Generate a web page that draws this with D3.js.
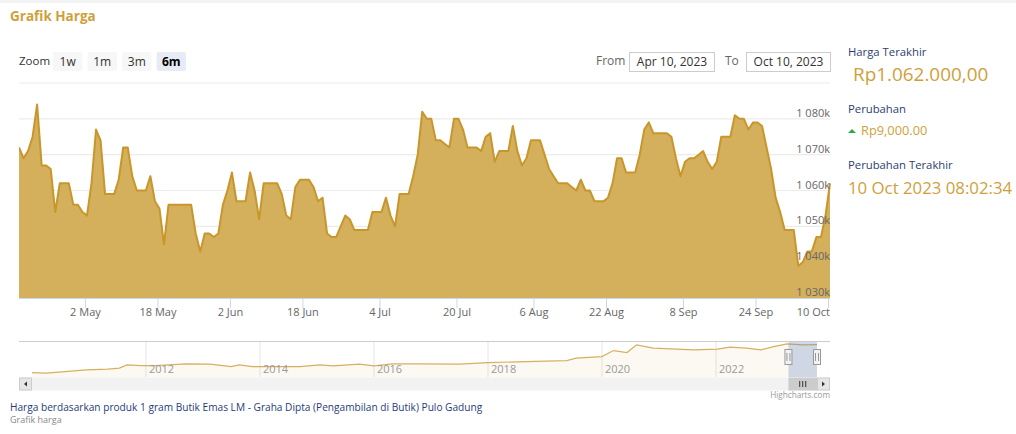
<!DOCTYPE html>
<html><head><meta charset="utf-8">
<script src="https://cdn.jsdelivr.net/npm/d3@7/dist/d3.min.js"></script>
<style>
body{margin:0;background:#fff;}
svg{display:block;font-family:"Open Sans",sans-serif;}
</style></head><body>
<svg id="c" width="1016" height="434"></svg>
<script>
// ---- data ----
const dayIndex = [0,1,2,3,4,5,6,7,8,9,11,12,13,14,15,16,17,18,19,21,22,23,24,25,26,28,29,30,31,32,33,38,39,40,41,42,43,44,45,46,47,48,50,51,52,53,54,57,58,59,60,61,62,64,65,66,67,68,69,70,72,73,74,77,78,80,81,82,83,84,86,87,88,89,90,91,92,93,94,95,96,97,98,99,101,102,103,104,105,106,108,109,110,111,112,113,115,116,117,118,119,121,122,123,124,125,126,127,129,130,131,132,133,134,136,137,138,139,140,143,144,145,146,147,148,149,150,151,152,153,154,155,157,158,159,160,161,162,163,164,165,166,167,168,169,171,172,173,174,175,176,177,178,179];
const prices = [1072,1069,1071,1075,1084,1067,1067,1066,1054,1062,1062,1056,1056,1054,1053,1062,1077,1074,1059,1059,1063,1072,1072,1064,1060,1060,1064,1057,1055,1045,1056,1056,1048,1043,1048,1048,1047,1048,1056,1060,1065,1057,1057,1065,1060,1052,1062,1062,1059,1053,1052,1061,1063,1063,1061,1057,1058,1048,1047,1047,1053,1052,1049,1049,1054,1054,1058,1053,1050,1059,1059,1064,1070,1082,1080,1080,1074,1074,1073,1072,1080,1080,1077,1072,1072,1071,1075,1076,1068,1071,1071,1078,1071,1067,1069,1074,1074,1070,1066,1064,1062,1062,1061,1060,1063,1060,1060,1057,1057,1058,1062,1069,1069,1065,1065,1070,1077,1079,1076,1076,1075,1069,1064,1068,1069,1069,1070,1071,1068,1066,1068,1075,1075,1081,1080,1080,1077,1079,1079,1078,1072,1066,1058,1054,1049,1049,1039,1040,1043,1043,1047,1047,1053,1062];
const xTickIndex = [15,31,47,63,80,97,114,130,147,163,179];
const xTickLabels = ["2 May","18 May","2 Jun","18 Jun","4 Jul","20 Jul","6 Aug","22 Aug","8 Sep","24 Sep","10 Oct"];
const yTicks = [1030,1040,1050,1060,1070,1080,1090];
const navDates = ["2010-01-01","2010-04-01","2010-08-01","2010-12-15","2011-05-01","2011-07-15","2011-09-01","2011-12-01","2012-03-01","2012-09-15","2013-02-15","2013-07-01","2013-08-20","2013-11-15","2014-09-15","2015-01-20","2015-04-15","2015-10-01","2015-12-31","2016-05-01","2016-10-01","2017-07-01","2018-01-01","2018-09-01","2019-05-20","2019-07-20","2019-12-31","2020-03-15","2020-06-10","2020-08-10","2020-11-25","2021-04-25","2021-08-10","2022-01-10","2022-04-01","2022-07-15","2022-10-15","2023-01-05","2023-04-01","2023-07-15","2023-10-10"];
const navPrices = [385,375,411,452,469,494,573,556,556,597,590,532,573,532,532,573,549,590,549,597,597,590,629,653,677,735,774,919,870,1056,977,952,935,952,1001,977,935,1015,1080,1056,1062];
const navYears = [2012,2014,2016,2018,2020,2022];
const zoomButtons = ["1w","1m","3m","6m"];
const selectedZoom = "6m";
const rangeFrom = "Apr 10, 2023", rangeTo = "Oct 10, 2023";

// ---- layout ----
const svg = d3.select("#c");
const L = 19, R = 830, T = 83, B = 298;
const gold = "#cf9f3b";

svg.append("rect").attr("x",0).attr("y",0).attr("width",1016).attr("height",3).attr("fill","#f3f3f3");
svg.append("text").attr("x",10).attr("y",21).text("Grafik Harga")
  .attr("font-size",13.5).attr("font-weight",700).attr("fill",gold);

// zoom buttons
svg.append("text").attr("x",19).attr("y",65).text("Zoom").attr("font-size",11.5).attr("fill","#333");
const bx = d3.scaleBand().domain(zoomButtons).range([53,186]).paddingInner(0.15).paddingOuter(0);
const bg = svg.selectAll("g.btn").data(zoomButtons).join("g").attr("class","btn");
bg.append("rect").attr("x",d=>bx(d)).attr("y",52).attr("width",bx.bandwidth()).attr("height",19)
  .attr("rx",2).attr("fill",d=>d===selectedZoom?"#e6ebf5":"#f7f7f7");
bg.append("text").attr("x",d=>bx(d)+bx.bandwidth()/2).attr("y",66).attr("text-anchor","middle")
  .attr("font-size",12).attr("fill",d=>d===selectedZoom?"#000":"#333")
  .attr("font-weight",d=>d===selectedZoom?700:400).text(d=>d);

// range inputs
svg.append("text").attr("x",596).attr("y",65).text("From").attr("font-size",12).attr("fill","#666");
svg.append("rect").attr("x",629.5).attr("y",52.5).attr("width",85).attr("height",19).attr("fill","#fff").attr("stroke","#ccc");
svg.append("text").attr("x",672).attr("y",66).attr("text-anchor","middle").text(rangeFrom).attr("font-size",12).attr("fill","#333");
svg.append("text").attr("x",725).attr("y",65).text("To").attr("font-size",12).attr("fill","#666");
svg.append("rect").attr("x",746.5).attr("y",52.5).attr("width",84).attr("height",19).attr("fill","#fff").attr("stroke","#ccc");
svg.append("text").attr("x",788.5).attr("y",66).attr("text-anchor","middle").text(rangeTo).attr("font-size",12).attr("fill","#333");

// scales
const x = d3.scaleLinear().domain([0,179]).range([L,R]);
const y = d3.scaleLinear().domain([1030,1090]).range([B,T]);
const tickShift = -8/24; // ticks at midnight, prices at 08:00

// grid
svg.append("g").selectAll("line").data(yTicks).join("line")
  .attr("x1",L).attr("x2",R).attr("y1",d=>y(d)).attr("y2",d=>y(d))
  .attr("stroke","#ececec").attr("stroke-width",1.2);

// area
svg.append("defs").append("clipPath").attr("id","pc").append("rect")
  .attr("x",L).attr("y",T-10).attr("width",R-L+1).attr("height",B-T+10);
const area = d3.area().x((d,i)=>x(dayIndex[i])).y0(B).y1(d=>y(d));
const line = d3.line().x((d,i)=>x(dayIndex[i])).y(d=>y(d));
const pg = svg.append("g").attr("clip-path","url(#pc)");
pg.append("path").datum(prices).attr("d",area).attr("fill","#d4af5c");
pg.append("path").datum(prices).attr("d",line).attr("fill","none").attr("stroke","#c8962b").attr("stroke-width",2).attr("stroke-linejoin","round");

// y labels
const fmt = d3.formatLocale({decimal:".",thousands:" ",grouping:[3],currency:["",""]}).format(",");
svg.append("g").selectAll("text").data(yTicks.filter(d=>d<1090)).join("text")
  .attr("x",R).attr("y",d=>y(d)-2).attr("text-anchor","end")
  .attr("font-size",11).attr("fill","#666").text(d=>fmt(d)+"k");

// x axis
svg.append("line").attr("x1",L).attr("x2",R).attr("y1",B+0.5).attr("y2",B+0.5).attr("stroke","#ccd6eb");
const xt = svg.append("g").selectAll("g").data(xTickIndex).join("g");
xt.append("line").attr("x1",d=>x(d+tickShift)).attr("x2",d=>x(d+tickShift)).attr("y1",B).attr("y2",B+10).attr("stroke","#ccd6eb");
xt.append("text").attr("x",(d,i)=>i===xTickIndex.length-1?R:x(d+tickShift)).attr("y",B+18)
  .attr("text-anchor",(d,i)=>i===xTickIndex.length-1?"end":"middle")
  .attr("font-size",11).attr("fill","#666").text((d,i)=>xTickLabels[i]);

// navigator
const NT = 341, NB = 377, NL = 32, NR = 817;
const parse = d3.timeParse("%Y-%m-%d");
const xN = d3.scaleTime().domain([parse("2010-01-01"),parse("2023-10-10")]).range([NL,NR]);
const yN = d3.scaleLinear().domain([280,1150]).range([NB,NT]);
svg.append("g").selectAll("line").data(navYears).join("line")
  .attr("x1",d=>xN(new Date(d,0,1))).attr("x2",d=>xN(new Date(d,0,1))).attr("y1",NT).attr("y2",NB)
  .attr("stroke","#e6e6e6");
const nd = navDates.map(parse);
svg.append("path").datum(navPrices).attr("d",d3.area().x((d,i)=>xN(nd[i])).y0(NB).y1(d=>yN(d)))
  .attr("fill","#d4af5c").attr("fill-opacity",0.07);
svg.append("path").datum(navPrices).attr("d",d3.line().x((d,i)=>xN(nd[i])).y(d=>yN(d)))
  .attr("fill","none").attr("stroke","#d6b060").attr("stroke-width",1.2);
svg.append("g").selectAll("text").data(navYears).join("text")
  .attr("x",d=>xN(new Date(d,0,1))+3).attr("y",NB-4).attr("font-size",11).attr("fill","#999").text(d=>d);
const m0 = xN(parse("2023-04-10")), m1 = xN(parse("2023-10-10"));
svg.append("rect").attr("x",m0).attr("y",NT).attr("width",m1-m0).attr("height",NB-NT)
  .attr("fill","rgba(102,133,194,0.3)");
svg.append("path").attr("d",`M${L},${NT+0.5}H${R}`).attr("stroke","#ccc").attr("fill","none");
[m0,m1].forEach(h=>{
  svg.append("rect").attr("x",h-3.5).attr("y",NT+8.5).attr("width",7).attr("height",15).attr("fill","#f2f2f2").attr("stroke","#999");
  svg.append("path").attr("d",`M${h-1.5},${NT+12}V${NT+20}M${h+1.5},${NT+12}V${NT+20}`).attr("stroke","#999");
});
// scrollbar
const SY = 377.5, SH = 13;
svg.append("rect").attr("x",L).attr("y",SY).attr("width",R-L).attr("height",SH).attr("fill","#f2f2f2");
svg.append("rect").attr("x",L+0.5).attr("y",SY+0.5).attr("width",12).attr("height",SH-1).attr("fill","#e6e6e6").attr("stroke","#ccc");
svg.append("path").attr("d",`M${L+8},${SY+4}L${L+8},${SY+9}L${L+5},${SY+6.5}Z`).attr("fill","#333");
svg.append("rect").attr("x",R-12.5).attr("y",SY+0.5).attr("width",12).attr("height",SH-1).attr("fill","#e6e6e6").attr("stroke","#ccc");
svg.append("path").attr("d",`M${R-8},${SY+4}L${R-8},${SY+9}L${R-5},${SY+6.5}Z`).attr("fill","#333");
svg.append("rect").attr("x",m0).attr("y",SY).attr("width",m1-m0).attr("height",SH).attr("fill","#ccc");
const mc = (m0+m1)/2;
svg.append("path").attr("d",`M${mc-3},${SY+3.5}V${SY+9.5}M${mc},${SY+3.5}V${SY+9.5}M${mc+3},${SY+3.5}V${SY+9.5}`).attr("stroke","#333");

svg.append("text").attr("x",R).attr("y",398).attr("text-anchor","end").attr("font-size",8.2).attr("fill","#999").text("Highcharts.com");

// side panel
const navy = "#2c3e70";
svg.append("text").attr("x",848).attr("y",56).attr("font-size",11.3).attr("fill",navy).text("Harga Terakhir");
svg.append("text").attr("x",853).attr("y",81).attr("font-size",18.9).attr("fill",gold).text("Rp1.062.000,00");
svg.append("text").attr("x",848).attr("y",113).attr("font-size",11.3).attr("fill",navy).text("Perubahan");
svg.append("path").attr("d","M848,133L856,133L852,129Z").attr("fill","#2eaa4a");
svg.append("text").attr("x",861).attr("y",135).attr("font-size",12.8).attr("fill",gold).text("Rp9,000.00");
svg.append("text").attr("x",848).attr("y",168.5).attr("font-size",11.3).attr("fill",navy).text("Perubahan Terakhir");
svg.append("text").attr("x",848).attr("y",194).attr("font-size",16.8).attr("fill",gold).text("10 Oct 2023 08:02:34");

// footer
svg.append("text").attr("x",10).attr("y",411).attr("font-size",10.15).attr("fill","#1f3d7a").text("Harga berdasarkan produk 1 gram Butik Emas LM - Graha Dipta (Pengambilan di Butik) Pulo Gadung");
svg.append("text").attr("x",10).attr("y",422.5).attr("font-size",9).attr("fill","#888").text("Grafik harga");
</script>
</body></html>
